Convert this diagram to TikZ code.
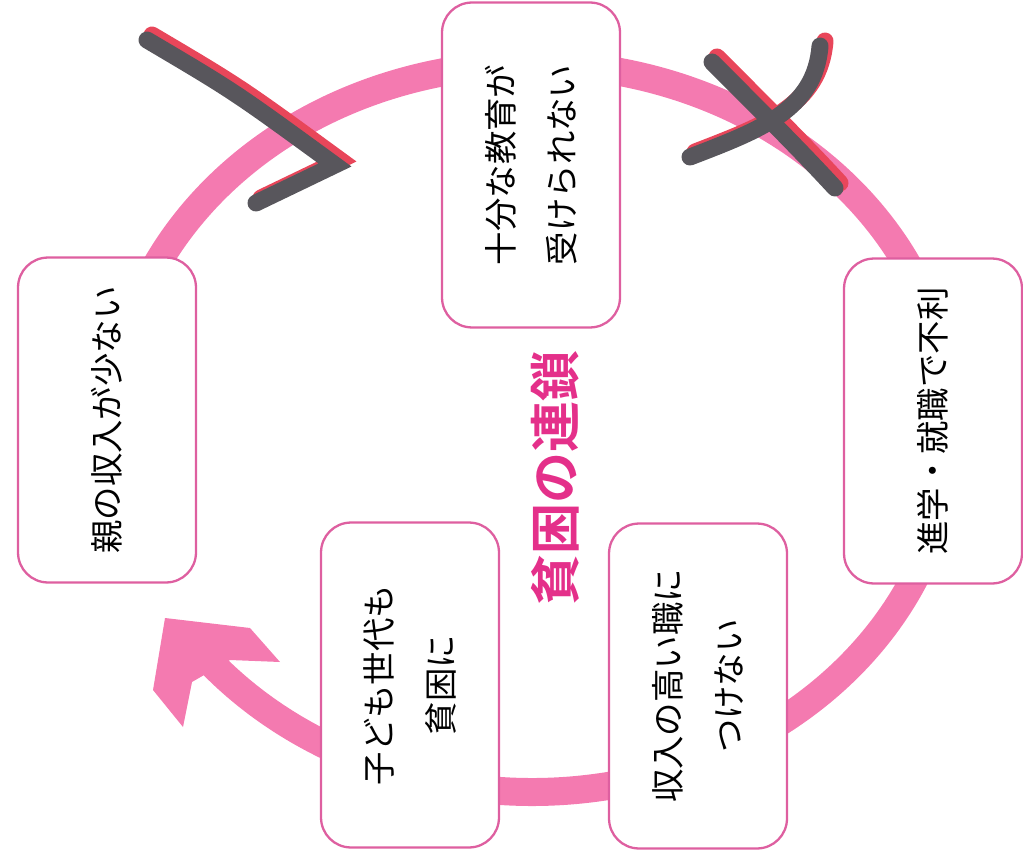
\documentclass[tikz,border=0pt]{standalone}
\usepackage{fontspec}
\newfontfamily\jp{Noto Sans CJK JP}
\newfontfamily\jpbold{Noto Sans CJK JP Bold}
\usetikzlibrary{shapes,positioning}

\definecolor{ringpink}{RGB}{244,122,176}
\definecolor{boxpink}{RGB}{222,95,160}
\definecolor{titlepink}{RGB}{228,48,138}
\definecolor{brushgray}{RGB}{88,86,92}
\definecolor{brushred}{RGB}{232,70,90}

\begin{document}
\begin{tikzpicture}[
    x=0.02cm, y=-0.02cm,
    cause/.style={rectangle, rounded corners=0.6cm, draw=boxpink, line width=1.3pt,
                  fill=white, minimum width=6.5cm, minimum height=3.56cm,
                  rotate=90, align=center, font=\jp\fontsize{19}{35}\selectfont},
    chaintitle/.style={rotate=90, text=titlepink, font=\jpbold\fontsize{29}{34}\selectfont},
    ring/.style={ringpink, line width=0.56cm},
    brush/.style={line width=0.34cm, line cap=round}
]
\useasboundingbox (0,0) rectangle (1023,861);

% The cycle ring with its arrow head
\draw[ring] (532,428) ++(165:420 and 364)
    arc[start angle=165, end angle=500, x radius=420, y radius=364];
\fill[ringpink] (165,618) -- (250,628) -- (280,662) -- (230,660)
    -- (192,682) -- (183,727) -- (153,690) -- cycle;

% Tick and cross over the ring
\foreach \col/\dx/\dy in {brushred/5/-5, brushgray/0/0} {
    \draw[brush, \col, shift={(\dx,\dy)}] (147,40) .. controls (235,92) .. (335,165) -- (256,203);
    \draw[brush, \col, shift={(\dx,\dy)}] (712,62) .. controls (760,110) and (800,150) .. (835,188);
    \draw[brush, \col, shift={(\dx,\dy)}] (820,46) .. controls (815,110) and (760,130) .. (690,157);
}

% The five steps of the chain
\node[cause] (parent) at (107,420) {親の収入が少ない};
\node[cause] (edu) at (531,165) {十分な教育が\\受けられない};
\node[cause] (career) at (933,421) {進学・就職で不利};
\node[cause] (job) at (698,686) {収入の高い職に\\つけない};
\node[cause] (child) at (410,685) {子ども世代も\\貧困に};

% Centre title
\node[chaintitle] (chain) at (555,478) {貧困の連鎖};

\end{tikzpicture}
\end{document}
